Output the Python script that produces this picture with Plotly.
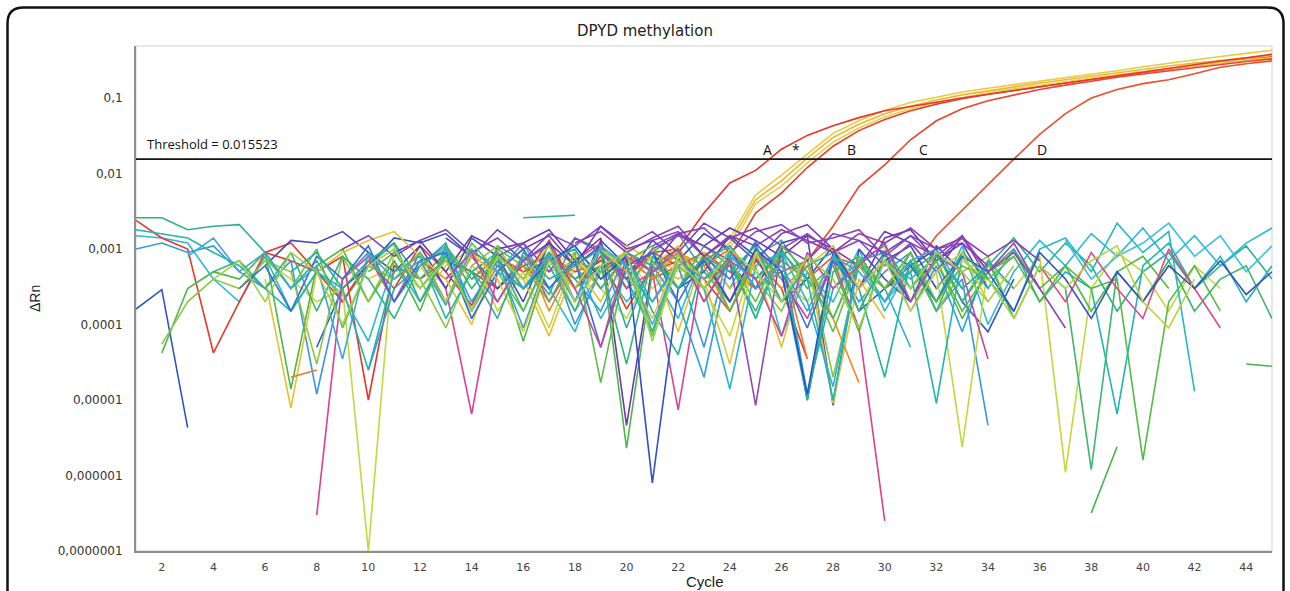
import plotly.graph_objects as go
import math

N = None
DRN_UNIT = 1e-4          # all series below are Delta Rn in units of 1e-4
THRESHOLD = 0.015523
cycles = list(range(1, 46))
x_ticks = list(range(2, 46, 2))
y_tickvals = [0.1, 0.01, 0.001, 0.0001, 0.00001, 0.000001, 0.0000001]
y_ticktext = ["0,1", "0,01", "0,001", "0,0001", "0,00001", "0,000001", "0,0000001"]

# ---- amplified samples (A, *, B, C, D) ----
amp_A = [N,N,N,N,N, 9,7,5,8,0.1, 6,4,7,5,3, 6,8,4,7,5, 9,10,30,75,110,
         210,320,430,550,680, 780,880,1000,1120,1250, 1400,1580,1780,2000,2250, 2500,2800,3100,3400,3800]
amp_Y1 = [N,N,N,N,N, N,N,N,N,4, 6,3,7,5,8, 4,6,9,5,7, 3,6,8,14,52,
          95,180,340,500,690, 870,1030,1200,1350,1500, 1650,1850,2050,2300,2600, 2900,3200,3550,3900,4300]
amp_Y2 = [N,N,N,N,N, N,N,N,N,N, N,N,N,6,3, 8,5,7,4,9, 6,4,7,12,45,
          80,160,300,450,620, 780,940,1100,1250,1400, 1580,1750,1950,2150,2400, 2650,2900,3150,3400,3650]
amp_Y3 = [N,N,N,N,N, N,N,N,N,N, N,N,N,N,N, 5,9,4,7,3, 8,5,6,10,40,
          68,138,260,400,560, 720,870,1020,1170,1320, 1480,1650,1830,2030,2230, 2450,2700,2950,3200,3400]
amp_B = [N,N,N,N,N, N,N,N,N,N, N,7,4,9,6, 3,8,5,7,4, 9,6,3,8,30,
         55,120,230,370,520, 680,830,980,1120,1270, 1420,1600,1780,1980,2180, 2400,2650,2900,3200,3550]
amp_C = [N,N,N,N,N, N,N,N,N,N, N,N,N,4,8, 5,7,3,6,9, 5,7,4,6,3,
         5,7,20,67,130, 280,500,720,920,1100, 1300,1480,1680,1880,2080, 2300,2550,2800,3050,3300]
amp_D = [N,N,N,N,N, N,N,N,N,N, N,N,N,N,N, 6,3,7,5,8, 4,6,9,5,3,
         7,4,8,6,3, 5,15,33,71,155, 330,620,1000,1300,1550, 1750,2100,2550,2850,3100]

# ---- non-amplified / background wells ----
n01 = [26,26,18,20,21, 9,3,7,2,6, 12,4,9,1.5,11, 7,2.5,14,10,3, 9,16,5,2,8, 13,4,1.2,7,11, 3,9,2,6,14, 5,12,6,1.5,5, 9,3,6,11,4]
n02 = [15,14,12,4,2, 8,1.5,5,2.5,0.6, 7,2,9,1.2,5, 12,3,0.8,6,2, 5,1.2,9,3,13, 0.7,5,2,10,1.5, 6,2,11,1,5, 13,6,16,8,19, 7,15,6,12,19]
n03 = [24,14,10,0.42,2, 9,12,5,2,7, 3,11,5,1.8,9, 4,13,3,8,1.6, 6,10,4,1.5,7, 3,0.35]
n04 = [1.6,2.9,0.043,N,N, N,N,0.5,3,6, 14,12,16,8,3, 7,12,2,13,6, 9,3,5,15,8, 2,4,11,1.5,3, 6,10,2,0.8,4]
n05 = [10,12,9,11,5, 3,7,0.12,4,9, 2,6,12,1.5,6, 3,9,1,5,8, 2,6,0.5,10,3, 5,0.1,8,2,5, 9,1.5,4,0.046]
n06 = [N,N,N,N,N, 7,4,2,3,0.001, 12,2,6,10,1.5, 5,0.9,8,3,1.2, 6,11,3,0.7,9, 4,2,7,1.5,10, 2,5,0.024,6,3, 8,0.011,3,9,5, 1.5,6,3]
n07 = [N,N,N,N,N, N,N,0.003,4,8, 2,9,3,0.065,5, 10,2,7,12,3, 5,0.074,8,2,10, 4,1.2,7,0.9,0.0025]
n08 = [N,N,N,N,N, N,N,N,N,N, N,N,14,8,18, 10,15,6,20,11, 17,9,22,14,7, 16,21,10,6,17, 12,5,15,4]
n09 = [N,N,N,N,N, N,N,N,N,N, 9,13,5,15,10, 12,18,7,14,0.046, 6,16,11,19,13, 8,15,10,3,14, 18,7,12,3]
n10 = [N,N,N,N,N, 6,13,12,17,9, 5,11,3,14,8, 2,12,6,11,4, 13,7,16,10,3, 12,15,0.085,10,4, 2,11,5]
n11 = [N,0.42,3,5,4, 9,0.14,6,10,2, 7,1.5,11,4,8, 0.6,7,3,10,0.023, 5,9,2,8,1.2, 10,3,6,0.8,9, 2,7,1.2,5,10, 3,6,1.5,5,8, 3]
n12 = [N,0.55,2,4,3, 7,5,0.3,8,2, 9,4,0.9,6,11, 3,8,1.5,5,9, 0.8,6,3,10,4, 1.5,8,0.2,6,2, 9,1.5,5,8,1.2]
n13 = [N,N,N,N,N, 4,0.078,5,9,13, 17,8,4,1,8, 4,0.7,6,2,11, 7,0.8,9,3,6, 0.5,8,0.09,4,1.2]
n14 = [18,16,14,9,6, 3,1.5,5,3,0.25, 5,8,1.2,5,9, 3,6,1.5,10,4, 0.8,8,3,7,1.2, 9,4,0.1,7,2, 5,0.09,8,3,10, 2,5,3,0.065,6, 12,3,8,2,6]
n15 = [N,N,N,N,N, N,0.2,0.25,N,N, N,N,N,N,N, N,N,N,N,N, N,N,6,10,4, 8,0.35]
n16 = [N,N,N,N,N, N,N,N,N,0.25, 3,6,10,2,7, 0.9,8,4,1.5,9, 6,2,0.2,8,4, 10,0.12,3,7,9, 1.5,6,0.8,7,3]
n17 = [N,N,N,N,N, N,N,N,N,N, N,N,N,N,N, N,N,N,N,N, 11,16,19,9,17, 21,12,14,18,8, 15,7,14,5,12, 3,0.9]
n18 = [N,N,N,N,N, N,N,N,N,N, N,N,N,N,N, N,N,N,N,N, N,N,N,N,N, N,N,N,N,N, 6,2,9,4,1.5, 10,14,5,22,9, 17,0.13]
n19 = [N,N,N,N,N, N,N,N,N,N, N,N,N,N,N, N,N,N,N,N, N,N,N,N,N, N,N,N,N,N, N,N,N,N,N, N,13,4,8,12, 22,8,15,5,11]
n20 = [N,N,N,N,N, N,N,N,N,N, N,N,N,N,N, N,N,N,N,N, N,N,N,N,N, N,N,N,N,N, 5,9,2,7,1.2, 6,3,0.012,5,2, 7,1.5,4,6,1.2]
n21 = [N,N,N,N,N, N,N,N,N,N, N,N,N,N,N, N,N,N,N,N, N,N,N,N,N, N,N,N,N,N, N,N,N,N,N, N,N,0.0032,0.024]
n22 = [N,N,N,N,N, N,N,N,N,N, N,N,N,N,N, N,N,N,N,N, N,N,N,N,N, N,N,N,N,N, 3,7,1.5,5,8, 2,6,3,4,0.016, 2,6,1.5]
n23 = [N,N,N,N,N, N,N,N,N,N, N,N,N,N,N, N,N,N,N,N, N,N,N,N,N, N,N,N,N,N, N,N,N,N,N, N,N,N,N,N, N,N,N,0.3,0.28]
n24 = [N,N,N,N,N, N,N,N,N,N, N,N,N,N,N, N,N,N,N,N, N,N,N,N,N, N,N,N,N,N, N,N,N,N,N, 6,2,9,3,1.2, 10,3,0.9]
n25 = [N,N,N,N,N, N,N,N,N,N, N,N,N,N,N, N,N,N,N,N, N,N,N,N,N, N,N,N,N, 7,11,3,8,5, 1.5,9,4,1.2,5, 2,6,3,7,2.5, 5]
n26 = [N,N,N,N,N, N,N,N,N,N, N,N,N,N,N, N,N,N,N,N, N,N,N,N,N, N,N,N,N,N, N, 3,7,4,1.2,6, 3,7,11,2,0.9, 4]
n27 = [N,N,N,5,7, 3,9,1.5,8,4, 1.2,6,11,3,8, 1.5,9,4,6,0.3, 8,3,11,6,1.5, 9,0.1,5,8,3, 7,1.5,9,4]
n28 = [N,N,N,N,N, N,N,N,N,N, 4,7,2,8,5, 10,1.5,7,3,8, 4,9,6,1.5,8, 3,6,1.2,0.17]
n29 = [N,N,N,N,N, N,N,N,N,N, N,N,N,N, 8,12,5,14,9, 4,10,15,11,7, 0.085,10,16,9,13, 6,12,8,15,5, 9,3]
n30 = [N,N,N,N,N, N,N,N,N,N, N,N,N, 5,2,8,3,7, 1.2,5,2,7,3, 0.14,6,9,2,0.15, 7,3,0.5]
n31 = [N,N,N,N,N, N,N,N,N,N, N,N,N,N,N, N, 7,10,3,8,1.5, 0.4,7,11,4,9, 0.1,8,3,0.2,7, 2,9]
n32 = [N,N,N,N,N, N,N,N,N, 5,9,3,8,1.5, 10,6,2,9,0.17, 7,11,3,8,1.5, 9,4,7,1.2,8, 3,9,2,6]
n33 = [N,N,N,N,N, N,N,N,N,N, N,N,N,N,N, 3,7,11,4,8, 0.008,3,7,2,10, 5,0.12,9,3,7, 2]
n34 = [N,N,N,N,N, N,N,N,N,N, N,N,N,N,N, 26,27,28]
n35 = [N,N,N,N,N, N,N,N, 10,15,8,13,18, 9,14,7,16,11, 20,10,13,17,8, 14,19,11,7,16, 13,9,15,10,12, 6]
n36 = [N,N,N,N, 3,6,1.5,8,4, 11,2,7,9,1.2, 5,10,3,7,0.5, 6,9,2,8,4, 12,5,0.9,7,3, 9,6,2,8]
n37 = [N,N,N,N,N, 8,3,10,0.9,6, 4,9,2,12,5, 1.5,8,3,10,6, 0.7,9,4,7,2, 11,5,0.8,7,3, 9,2,6,4,8]
n38 = [N,N,N,N,N, N,N,N,N,N, N, 6,2,9,4,0.8, 7,3,10,5,1.2, 8,4,0.3,9,2, 6,11,3,7,1.5, 5,9,2]
n39 = [N,N,N,N,N, N,N,N,N,N, N,N, 4,9,2,7,11, 3,0.5,8,5,10, 2,7,4,0.7,9, 3,6,12,2,8, 5,0.35]
n40 = [N,N, 8,14,5,9,3, 6,0.35,9,4,7, 1.8,10,5,3,8, 2,11,6,1,7, 4,9,3,6,1.5, 8,5,2,7,10, 3,6]
n41 = [N,N,N,N,N,N, 5,9,3,7,12, 2,8,5,1.2,9, 4,6,10,0.9,7, 3,8,5,11,2, 6,9,1.5,7,4, 8,3,6]
n42 = [N,N,N,N,N, N,N,N,N,N, N,N,N,N,N, N,N, 12,17,9,14,20, 8,15,11,18,13, 9,16,12,19,10, 14,8,13,7]
n43 = [N,N,N, 4,7,2,9,5, 1,6,10,3,7, 1.5,8,4,11,2, 6,9,0.6,7,3, 10,5,2,8,4, 0.9,7,3,9,5, 2,6]

noise_series = [
    (n01, "#27b48c"), (n02, "#2cb8d8"), (n03, "#e23b2b"), (n04, "#2f56c2"),
    (n05, "#3797dc"), (n06, "#c3d83a"), (n07, "#dd3f92"), (n08, "#7a3fb8"),
    (n09, "#6b37b2"), (n10, "#4a47ba"), (n11, "#4cb848"), (n12, "#8dc63f"),
    (n13, "#e6c02e"), (n14, "#1fb5b0"), (n15, "#ef7a2c"), (n16, "#2aa0e2"),
    (n17, "#8a45bc"), (n18, "#22b8c8"), (n19, "#3cc0dc"), (n20, "#3db56a"),
    (n21, "#47b34e"), (n22, "#55ba45"), (n23, "#47b34e"), (n24, "#e04a86"),
    (n25, "#3b4fc0"), (n26, "#b5d43c"), (n27, "#36b57a"), (n28, "#ef8a26"),
    (n29, "#9147b5"), (n30, "#30b0d0"), (n31, "#20b49c"), (n32, "#62bb44"),
    (n33, "#3050c8"), (n34, "#27b48c"), (n35, "#7d45c0"), (n36, "#3a6fd0"),
    (n37, "#5ec24c"), (n38, "#d9c93a"), (n39, "#c9459e"), (n40, "#39a8d8"),
    (n41, "#2cae9f"), (n42, "#8b3fae"), (n43, "#9fd04a"),
]
amp_series = [
    (amp_B, "#e63b2e"), (amp_Y3, "#e4d24a"), (amp_Y2, "#f0b43a"), (amp_Y1, "#e8cc3a"),
    (amp_C, "#e8452c"), (amp_D, "#e8502e"), (amp_A, "#e8342a"),
]

def to_drn(vals):
    return [None if v is None else v * DRN_UNIT for v in vals]

fig = go.Figure()
for vals, col in amp_series + noise_series:
    fig.add_trace(go.Scatter(x=cycles[:len(vals)], y=to_drn(vals), mode="lines",
                             line=dict(color=col, width=1.6), connectgaps=False,
                             hoverinfo="skip", showlegend=False))

fig.add_trace(go.Scatter(x=[cycles[0], cycles[-1]], y=[THRESHOLD, THRESHOLD], mode="lines",
                         line=dict(color="#111111", width=1.8), hoverinfo="skip", showlegend=False))

# ---- layout geometry (pixels of the 1290x591 page) ----
W, H = 1290, 591
L, R, T, B = 136, 18, 46, 40
pw, ph = W - L - R, H - T - B

def px(xp):
    return (xp - L) / pw

def py(yp):
    return (H - B - yp) / ph

fl, fr, ft, fb, rad = 7.5, 1283.5, 7.5, 605, 16
frame_path = (f"M {px(fl)},{py(fb)} L {px(fl)},{py(ft + rad)} "
              f"Q {px(fl)},{py(ft)} {px(fl + rad)},{py(ft)} "
              f"L {px(fr - rad)},{py(ft)} Q {px(fr)},{py(ft)} {px(fr)},{py(ft + rad)} "
              f"L {px(fr)},{py(fb)}")

thr_log = math.log10(THRESHOLD)
labels = [("A", 25.44), ("*", 26.57), ("B", 28.73), ("C", 31.5), ("D", 36.1)]
annotations = [
    dict(text="Threshold = 0.015523", x=px(145), y=thr_log, xref="paper", yref="y",
         xanchor="left", yanchor="middle", yshift=15, showarrow=False,
         font=dict(family="Open Sans", size=13, color="#111111")),
    dict(text="\u0394Rn", x=px(35), y=py(298), xref="paper", yref="paper", textangle=-90,
         xanchor="center", yanchor="middle", showarrow=False,
         font=dict(family="Liberation Sans", size=14, color="#222222")),
    dict(text="Cycle", x=px(705), y=py(581), xref="paper", yref="paper",
         xanchor="center", yanchor="middle", showarrow=False,
         font=dict(family="Liberation Sans", size=15, color="#222222")),
]
for txt, cx in labels:
    annotations.append(dict(text=txt, x=cx, y=thr_log, xref="x", yref="y",
                            xanchor="center", yanchor="middle", yshift=10, showarrow=False,
                            font=dict(family="Open Sans", size=14, color="#111111")))

fig.update_layout(
    width=W, height=H,
    margin=dict(l=L, r=R, t=T, b=B, pad=0),
    paper_bgcolor="white", plot_bgcolor="white",
    title=dict(text="DPYD methylation", x=0.5, xref="container", y=1 - 31 / H, yref="container",
               xanchor="center", yanchor="middle",
               font=dict(family="DejaVu Sans", size=15, color="#222222")),
    xaxis=dict(range=[1, 45], tickvals=x_ticks, showgrid=False, zeroline=False,
               showline=True, linecolor="#8f8f8f", linewidth=2, ticks="",
               ticklabelstandoff=5,
               tickfont=dict(family="DejaVu Sans", size=11, color="#444444")),
    yaxis=dict(type="log", range=[-7, -0.311], tickvals=y_tickvals, ticktext=y_ticktext,
               showgrid=False, zeroline=False, showline=True, linecolor="#8f8f8f",
               linewidth=2, ticks="", ticklabelstandoff=9,
               tickfont=dict(family="DejaVu Sans", size=12, color="#333333")),
    shapes=[
        dict(type="rect", xref="paper", yref="paper", x0=0, y0=0, x1=1, y1=1,
             line=dict(color="#cfcfcf", width=1), layer="below"),
        dict(type="path", xref="paper", yref="paper", path=frame_path,
             line=dict(color="#111111", width=2.5)),
    ],
    annotations=annotations,
)

fig.write_html("out.html", config={"displayModeBar": False},
               post_script="document.body.style.margin='0';")
